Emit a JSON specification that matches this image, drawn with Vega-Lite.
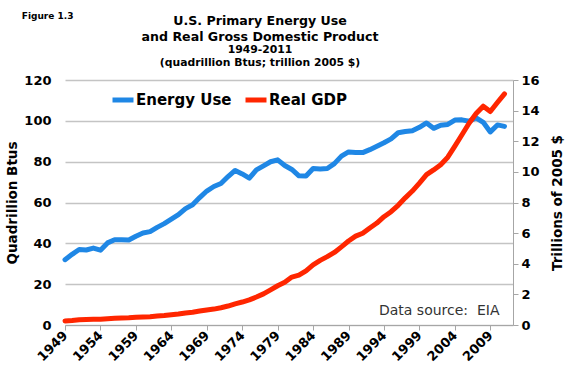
{
  "$schema": "https://vega.github.io/schema/vega-lite/v6.json",
  "width": 448,
  "height": 245,
  "autosize": {"type": "none"},
  "padding": {"left": 65, "top": 80, "right": 57, "bottom": 58},
  "background": "white",
  "title": {
    "text": ["U.S. Primary Energy Use", "and Real Gross Domestic Product"],
    "subtitle": ["1949-2011", "(quadrillion Btus; trillion 2005 $)"],
    "anchor": "middle",
    "frame": "group",
    "dx": -29,
    "dy": 68,
    "offset": 12,
    "font": "DejaVu Sans",
    "fontSize": 12.6,
    "fontWeight": "bold",
    "color": "#000000",
    "lineHeight": 16,
    "subtitleFont": "DejaVu Sans",
    "subtitleFontSize": 10.8,
    "subtitleFontWeight": "bold",
    "subtitleColor": "#000000",
    "subtitleLineHeight": 13,
    "subtitlePadding": 1
  },
  "config": {"view": {"stroke": null}, "font": "DejaVu Sans"},
  "data": {
    "values": [
      {"year": 1949, "energy": 31.98, "gdp": 0.267},
      {"year": 1950, "energy": 34.62, "gdp": 0.294},
      {"year": 1951, "energy": 36.97, "gdp": 0.339},
      {"year": 1952, "energy": 36.75, "gdp": 0.358},
      {"year": 1953, "energy": 37.67, "gdp": 0.379},
      {"year": 1954, "energy": 36.64, "gdp": 0.380},
      {"year": 1955, "energy": 40.21, "gdp": 0.415},
      {"year": 1956, "energy": 41.75, "gdp": 0.437},
      {"year": 1957, "energy": 41.79, "gdp": 0.461},
      {"year": 1958, "energy": 41.65, "gdp": 0.467},
      {"year": 1959, "energy": 43.47, "gdp": 0.507},
      {"year": 1960, "energy": 45.09, "gdp": 0.526},
      {"year": 1961, "energy": 45.74, "gdp": 0.545},
      {"year": 1962, "energy": 47.83, "gdp": 0.586},
      {"year": 1963, "energy": 49.65, "gdp": 0.618},
      {"year": 1964, "energy": 51.82, "gdp": 0.664},
      {"year": 1965, "energy": 54.02, "gdp": 0.719},
      {"year": 1966, "energy": 57.02, "gdp": 0.788},
      {"year": 1967, "energy": 58.91, "gdp": 0.833},
      {"year": 1968, "energy": 62.42, "gdp": 0.910},
      {"year": 1969, "energy": 65.62, "gdp": 0.985},
      {"year": 1970, "energy": 67.84, "gdp": 1.039},
      {"year": 1971, "energy": 69.29, "gdp": 1.127},
      {"year": 1972, "energy": 72.70, "gdp": 1.238},
      {"year": 1973, "energy": 75.71, "gdp": 1.383},
      {"year": 1974, "energy": 73.99, "gdp": 1.500},
      {"year": 1975, "energy": 71.97, "gdp": 1.638},
      {"year": 1976, "energy": 75.98, "gdp": 1.825},
      {"year": 1977, "energy": 77.96, "gdp": 2.031},
      {"year": 1978, "energy": 79.96, "gdp": 2.295},
      {"year": 1979, "energy": 80.90, "gdp": 2.563},
      {"year": 1980, "energy": 78.12, "gdp": 2.790},
      {"year": 1981, "energy": 76.17, "gdp": 3.128},
      {"year": 1982, "energy": 73.10, "gdp": 3.255},
      {"year": 1983, "energy": 72.97, "gdp": 3.537},
      {"year": 1984, "energy": 76.63, "gdp": 3.933},
      {"year": 1985, "energy": 76.39, "gdp": 4.220},
      {"year": 1986, "energy": 76.64, "gdp": 4.463},
      {"year": 1987, "energy": 79.05, "gdp": 4.740},
      {"year": 1988, "energy": 82.71, "gdp": 5.104},
      {"year": 1989, "energy": 84.75, "gdp": 5.484},
      {"year": 1990, "energy": 84.49, "gdp": 5.803},
      {"year": 1991, "energy": 84.44, "gdp": 5.996},
      {"year": 1992, "energy": 85.87, "gdp": 6.338},
      {"year": 1993, "energy": 87.58, "gdp": 6.657},
      {"year": 1994, "energy": 89.25, "gdp": 7.072},
      {"year": 1995, "energy": 91.17, "gdp": 7.398},
      {"year": 1996, "energy": 94.17, "gdp": 7.817},
      {"year": 1997, "energy": 94.76, "gdp": 8.304},
      {"year": 1998, "energy": 95.18, "gdp": 8.747},
      {"year": 1999, "energy": 96.81, "gdp": 9.268},
      {"year": 2000, "energy": 98.97, "gdp": 9.817},
      {"year": 2001, "energy": 96.32, "gdp": 10.128},
      {"year": 2002, "energy": 97.86, "gdp": 10.470},
      {"year": 2003, "energy": 98.21, "gdp": 10.961},
      {"year": 2004, "energy": 100.35, "gdp": 11.686},
      {"year": 2005, "energy": 100.49, "gdp": 12.422},
      {"year": 2006, "energy": 99.79, "gdp": 13.178},
      {"year": 2007, "energy": 101.47, "gdp": 13.808},
      {"year": 2008, "energy": 99.29, "gdp": 14.292},
      {"year": 2009, "energy": 94.58, "gdp": 13.939},
      {"year": 2010, "energy": 98.00, "gdp": 14.527},
      {"year": 2011, "energy": 97.30, "gdp": 15.094}
    ]
  },
  "encoding": {
    "x": {
      "field": "year",
      "type": "quantitative",
      "scale": {"domain": [1949, 2012.2], "nice": false, "zero": false},
      "axis": {
        "values": [1949, 1954, 1959, 1964, 1969, 1974, 1979, 1984, 1989, 1994, 1999, 2004, 2009],
        "format": "d",
        "title": null,
        "grid": false,
        "labelAngle": -45,
        "labelAlign": "right",
        "labelBaseline": "middle",
        "labelFontSize": 13,
        "labelFontWeight": "bold",
        "labelColor": "#000000",
        "labelPadding": 3,
        "tickColor": "#a6a6a6",
        "tickSize": 5,
        "domainColor": "#a6a6a6",
        "domainWidth": 1
      }
    }
  },
  "layer": [
    {
      "layer": [
        {
          "mark": {"type": "line", "strokeWidth": 5, "strokeCap": "round", "strokeJoin": "round"},
          "encoding": {
            "y": {
              "field": "energy",
              "type": "quantitative",
              "scale": {"domain": [0, 120], "nice": false},
              "axis": {
                "orient": "left",
                "values": [0, 20, 40, 60, 80, 100, 120],
                "title": "Quadrillion Btus",
                "titleFontSize": 13.5,
                "titleFontWeight": "bold",
                "titleColor": "#000000",
                "titlePadding": 4,
                "labelFontSize": 13,
                "labelFontWeight": "bold",
                "labelColor": "#000000",
                "labelPadding": 14,
                "ticks": false,
                "domain": false,
                "grid": true,
                "gridColor": "#c4c4c4",
                "gridWidth": 1.5
              }
            },
            "color": {
              "datum": "Energy Use",
              "type": "nominal",
              "scale": {"domain": ["Energy Use", "Real GDP"], "range": ["#1f87e5", "#ff2600"]},
              "legend": {
                "orient": "none",
                "legendX": 45,
                "legendY": 7,
                "direction": "horizontal",
                "title": null,
                "symbolType": "stroke",
                "symbolStrokeWidth": 5,
                "symbolSize": 441,
                "labelFontSize": 15,
                "labelFontWeight": "bold",
                "labelColor": "#000000",
                "columnPadding": 3,
                "labelOffset": 0
              }
            }
          }
        },
        {
          "transform": [{"filter": "datum.year == 2011"}],
          "mark": {"type": "text", "align": "right", "baseline": "middle", "fontSize": 14, "color": "#333333", "font": "DejaVu Sans"},
          "encoding": {
            "x": {"datum": 2010.3, "type": "quantitative"},
            "y": {"datum": 6.9, "type": "quantitative"},
            "text": {"value": "Data source:\u00a0 EIA"}
          }
        },
        {
          "transform": [{"filter": "datum.year == 1949"}],
          "mark": {"type": "text", "align": "left", "baseline": "middle", "fontSize": 9, "fontWeight": "bold", "color": "#000000", "font": "DejaVu Sans", "clip": false},
          "encoding": {
            "x": {"datum": 1942.9, "type": "quantitative"},
            "y": {"datum": 151.3, "type": "quantitative"},
            "text": {"value": "Figure 1.3"}
          }
        }
      ]
    },
    {
      "mark": {"type": "line", "strokeWidth": 5, "strokeCap": "round", "strokeJoin": "round"},
      "encoding": {
        "y": {
          "field": "gdp",
          "type": "quantitative",
          "scale": {"domain": [0, 16], "nice": false},
          "axis": {
            "orient": "right",
            "values": [0, 2, 4, 6, 8, 10, 12, 14, 16],
            "title": "Trillions of 2005 $",
            "titleAngle": 270,
            "titleFontSize": 13.5,
            "titleFontWeight": "bold",
            "titleColor": "#000000",
            "titlePadding": 25,
            "labelFontSize": 13,
            "labelFontWeight": "bold",
            "labelColor": "#000000",
            "labelPadding": 3,
            "tickColor": "#a6a6a6",
            "tickSize": 5,
            "domain": true,
            "domainColor": "#a6a6a6",
            "grid": false
          }
        },
        "color": {"datum": "Real GDP", "type": "nominal"}
      }
    }
  ],
  "resolve": {"scale": {"y": "independent"}}
}
